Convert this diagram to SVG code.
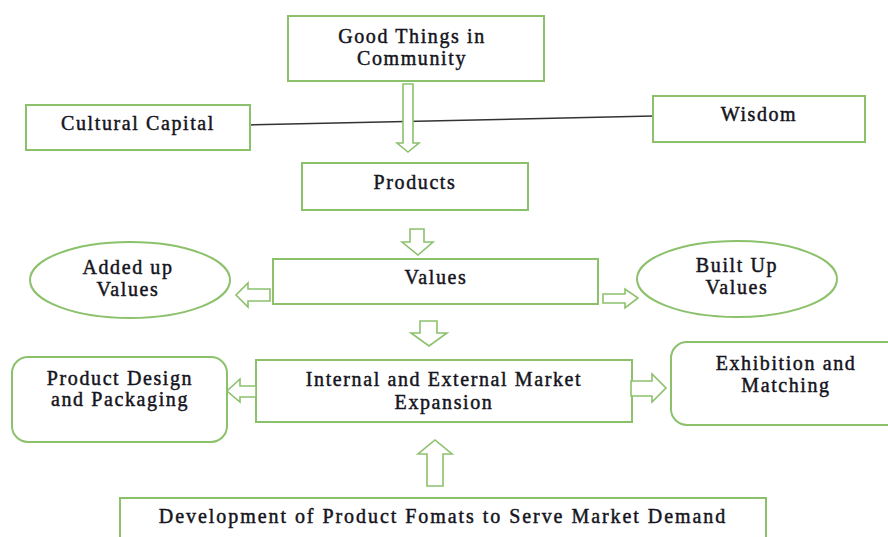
<svg xmlns="http://www.w3.org/2000/svg" width="888" height="537" viewBox="0 0 888 537">
  <style>
    .box { fill: #ffffff; stroke: #8cc16c; stroke-width: 2; }
    .arrow { fill: #ffffff; stroke: #8cc16c; stroke-width: 1.6; stroke-linejoin: miter; }
    .link { stroke: #333333; stroke-width: 1.5; fill: none; }
    text { font-family: "Liberation Serif", "Times New Roman", serif; font-size: 20px; font-weight: normal; letter-spacing: 1.6px; fill: #141420; text-anchor: middle; stroke: #141420; stroke-width: 0.45; }
    .wide { letter-spacing: 1.95px; }
  </style>
  <rect width="888" height="537" fill="#ffffff"/>

  <!-- plain line joining Cultural Capital and Wisdom -->
  <g id="connectors">
    <line class="link" x1="247" y1="125" x2="653" y2="116"/>
  </g>

  <g id="good-things">
    <rect class="box" x="288" y="16" width="256" height="65"/>
    <text x="412" y="43">Good Things in</text>
    <text x="412" y="65">Community</text>
  </g>

  <g id="cultural-capital">
    <rect class="box" x="26" y="105" width="224" height="45"/>
    <text x="138" y="130">Cultural Capital</text>
  </g>

  <g id="wisdom">
    <rect class="box" x="653" y="96" width="212" height="46"/>
    <text x="759" y="121">Wisdom</text>
  </g>

  <g id="products">
    <rect class="box" x="302" y="163" width="226" height="47"/>
    <text x="415" y="189">Products</text>
  </g>

  <g id="values">
    <rect class="box" x="273" y="259" width="325" height="45"/>
    <text x="436" y="284">Values</text>
  </g>

  <g id="added-up-values">
    <ellipse class="box" cx="130" cy="280" rx="100" ry="38"/>
    <text x="128" y="274">Added up</text>
    <text x="128" y="296">Values</text>
  </g>

  <g id="built-up-values">
    <ellipse class="box" cx="737" cy="279" rx="100" ry="38"/>
    <text x="737" y="272">Built Up</text>
    <text x="737" y="294">Values</text>
  </g>

  <g id="market-expansion">
    <rect class="box" x="256" y="360" width="376" height="62"/>
    <text x="444" y="386">Internal and External Market</text>
    <text x="444" y="409">Expansion</text>
  </g>

  <g id="product-design">
    <rect class="box" x="12" y="357" width="215" height="85" rx="16"/>
    <text x="120" y="385">Product Design</text>
    <text x="120" y="406">and Packaging</text>
  </g>

  <g id="exhibition">
    <rect class="box" x="671" y="342" width="240" height="83" rx="16"/>
    <text x="786" y="370">Exhibition and</text>
    <text x="786" y="392">Matching</text>
  </g>

  <g id="product-formats">
    <rect class="box" x="120" y="498" width="646" height="60"/>
    <text class="wide" x="443" y="523">Development of Product Fomats to Serve Market Demand</text>
  </g>

  <!-- block arrows -->
  <g id="arrows">
    <polygon class="arrow" points="403,84 413,84 413,143 419,143 408,152 397,143 403,143"/>
    <polygon class="arrow" points="410,229 424,229 424,242 433,242 418,255 402,242 410,242"/>
    <polygon class="arrow" points="420,321 437,321 437,333 447,333 429,346 411,333 420,333"/>
    <polygon class="arrow" points="270,289 248,289 248,283 236,295 248,307 248,301 270,301"/>
    <polygon class="arrow" points="603,294 625,294 625,289 638,298 625,308 625,303 603,303"/>
    <polygon class="arrow" points="256,386 240,386 240,379 227,391 240,402 240,397 256,397"/>
    <polygon class="arrow" points="631,381 652,381 652,374 666,388 652,402 652,396 631,396"/>
    <polygon class="arrow" points="427,486 443,486 443,454 452,454 435,440 418,454 427,454"/>
  </g>
</svg>
